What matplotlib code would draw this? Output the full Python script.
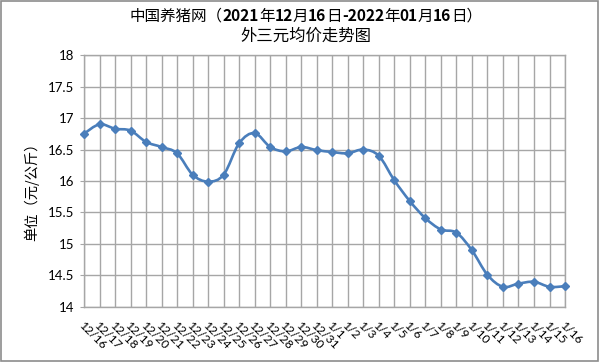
import numpy as np
import matplotlib.pyplot as plt
from matplotlib.path import Path
from matplotlib.patches import PathPatch, Rectangle

plt.rcParams['font.family'] = ['Lato', 'Noto Sans CJK SC', 'DejaVu Sans']

dates = ['12/16', '12/17', '12/18', '12/19', '12/20', '12/21', '12/22', '12/23',
         '12/24', '12/25', '12/26', '12/27', '12/28', '12/29', '12/30', '12/31',
         '1/1', '1/2', '1/3', '1/4', '1/5', '1/6', '1/7', '1/8',
         '1/9', '1/10', '1/11', '1/12', '1/13', '1/14', '1/15', '1/16']
prices = [16.75, 16.90, 16.83, 16.80, 16.62, 16.54, 16.44, 16.10,
          15.99, 16.10, 16.60, 16.76, 16.54, 16.47, 16.54, 16.49,
          16.46, 16.44, 16.50, 16.40, 16.01, 15.68, 15.41, 15.23,
          15.18, 14.90, 14.51, 14.32, 14.37, 14.40, 14.32, 14.33]
yticks = [14, 14.5, 15, 15.5, 16, 16.5, 17, 17.5, 18]
# title line 1 pieces: (text, bold)
title_parts = [('中国养猪网（', False), ('2021', True), ('年', False), ('12', True),
               ('月', False), ('16', True), ('日', False), ('-2022', True),
               ('年', False), ('01', True), ('月', False), ('16', True),
               ('日）', False)]
subtitle = '外三元均价走势图'

blue = '#4A7EBB'
grid_c = '#A6A6A6'
cjk = ['Noto Sans CJK SC']

fig = plt.figure(figsize=(6, 3.62), dpi=100)
ax = fig.add_axes([0.14, 0.152, 0.8017, 0.696])

x = np.arange(len(dates))
pts = np.column_stack([x, prices]).astype(float)

# smoothed line like the spreadsheet "smooth line" option
verts = [tuple(pts[0])]
codes = [Path.MOVETO]
n = len(pts)
for i in range(n - 1):
    p_prev = pts[max(i - 1, 0)]
    p0 = pts[i]
    p1 = pts[i + 1]
    p_next = pts[min(i + 2, n - 1)]
    c1 = p0 + (p1 - p_prev) / 6.0
    c2 = p1 - (p_next - p0) / 6.0
    verts += [tuple(c1), tuple(c2), tuple(p1)]
    codes += [Path.CURVE4, Path.CURVE4, Path.CURVE4]
ax.add_patch(PathPatch(Path(verts, codes), facecolor='none', edgecolor=blue,
                       lw=1.9, zorder=3, clip_on=False))
ax.plot(x, prices, linestyle='none', marker='D', ms=4.3, color=blue, zorder=4,
        clip_on=False)

ax.set_xlim(0, len(dates) - 1)
ax.set_ylim(14, 18)
ax.set_yticks(yticks)
ax.set_yticklabels([f'{v:g}' for v in yticks], fontsize=9.5)
ax.set_xticks(x)
ax.set_xticklabels(dates, fontsize=8.7, rotation=-45, ha='left', va='top',
                   rotation_mode='anchor')
ax.tick_params(axis='x', length=0, pad=9)
ax.tick_params(axis='y', length=3, color=grid_c, pad=4)
ax.grid(True, color=grid_c, lw=1)
ax.set_axisbelow(True)
for s in ax.spines.values():
    s.set_color(grid_c)
    s.set_linewidth(1)

ax.set_ylabel('单位（元/公斤）', fontsize=10.3, family=cjk)
ax.yaxis.set_label_coords(-0.092, 0.472)

# title line 1: CJK in regular weight, digits bold; laid out piece by piece, then centred
renderer = fig.canvas.get_renderer()
texts = []
xpos = 0.0
for s, bold in title_parts:
    t = fig.text(xpos, 1 - 16 / 362, s, ha='left', va='center', fontsize=11.2,
                 fontweight='bold' if bold else 'normal', family=cjk)
    w = t.get_window_extent(renderer).width / fig.bbox.width
    texts.append((t, xpos))
    xpos += w
start = 306 / 600 - xpos / 2
for t, x0 in texts:
    t.set_x(start + x0)

fig.text(306 / 600, 1 - 36 / 362, subtitle, ha='center', va='center',
         fontsize=11.8, family=cjk)

fig.patches.append(Rectangle((0.002, 0.003), 0.995, 0.993, transform=fig.transFigure,
                             fill=False, edgecolor='#8C8C8C', lw=1.2))

fig.savefig('out.png', dpi=100)
